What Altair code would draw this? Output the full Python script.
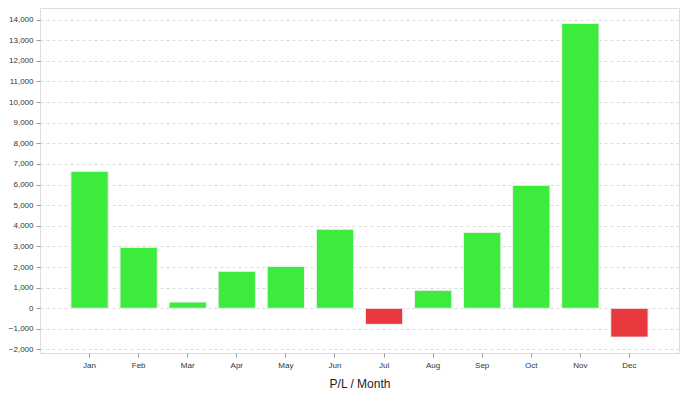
import altair as alt
import pandas as pd

months = ["Jan", "Feb", "Mar", "Apr", "May", "Jun", "Jul", "Aug", "Sep", "Oct", "Nov", "Dec"]
values = [6640, 2950, 300, 1790, 2030, 3830, -780, 870, 3680, 5960, 13810, -1400]

df = pd.DataFrame({"month": months, "value": values})
df["sign"] = ["pos" if v >= 0 else "neg" for v in values]

ticks = list(range(-2000, 14001, 1000))

chart = alt.Chart(df).mark_bar(
    stroke="#f0f0f0", strokeWidth=1
).encode(
    x=alt.X("month:N", sort=months,
            scale=alt.Scale(paddingInner=0.24, paddingOuter=0.63),
            axis=alt.Axis(title="P/L / Month", labelAngle=0, domain=False,
                          tickColor="#999", tickSize=4, labelPadding=4,
                          labelFontSize=8, labelColor="#333",
                          titleFontSize=12, titleFontWeight="normal",
                          titleColor="#222", titlePadding=9)),
    y=alt.Y("value:Q", scale=alt.Scale(domain=[-2170, 14560], nice=False, zero=False),
            axis=alt.Axis(title=None, values=ticks, format=",d", domain=False,
                          grid=True, gridColor="#dcdcdc", gridDash=[3, 3],
                          tickColor="#999", tickSize=4, labelPadding=3,
                          labelFontSize=8, labelColor="#333")),
    color=alt.Color("sign:N", scale=alt.Scale(domain=["pos", "neg"],
                                               range=["#3deb3d", "#e8393e"]),
                    legend=None),
).properties(
    width=639, height=345,
    autosize=alt.AutoSizeParams(type="none"),
    padding={"left": 32, "top": 0, "right": 1, "bottom": 36},
).configure_view(
    stroke="#b0b0b0", strokeWidth=1
).configure(
    font="Liberation Sans"
).configure_axis(
    labelFont="Liberation Sans", titleFont="Liberation Sans"
)

chart.save("out.html", embed_options={"renderer": "svg", "actions": False})
